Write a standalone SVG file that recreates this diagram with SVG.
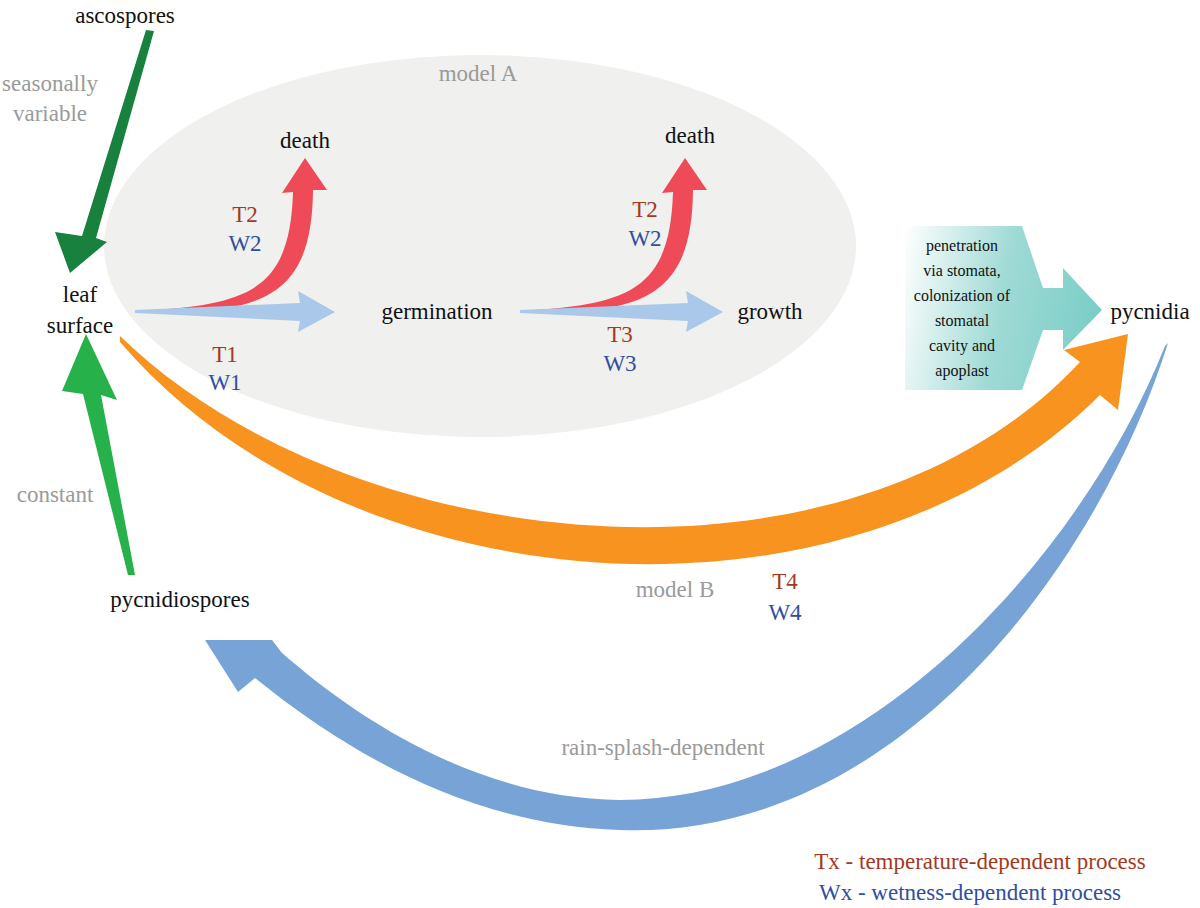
<svg xmlns="http://www.w3.org/2000/svg" width="1200" height="908" viewBox="0 0 1200 908" font-family="'Liberation Serif','Times New Roman','DejaVu Serif',serif">
<defs>
<linearGradient id="tg" x1="0" y1="0" x2="1" y2="0.15">
<stop offset="0" stop-color="#ffffff"/><stop offset="0.55" stop-color="#9fdad5"/><stop offset="1" stop-color="#7ecec8"/>
</linearGradient>
<style>
text{font-family:'Liberation Serif','Times New Roman','DejaVu Serif',serif;font-size:23px;text-anchor:middle}
.k{fill:#111}.g{fill:#9a9a9a}.t{fill:#a3391f}.w{fill:#2f4ea0}
.s{font-size:16px;fill:#111}
.lb{fill:#a9c8ea}.rd{fill:#ee4a57}
</style>
</defs>
<rect width="1200" height="908" fill="#fff"/>
<g id="modelA"><ellipse cx="480" cy="246" rx="376" ry="191" fill="#f0f0ee"/><text x="478" y="81" class="g" font-size="21">model A</text></g>
<g id="connectors">
<path d="M146,30 L154,31 L96,238 L107,242 L70,273 L55,232 L82,236 Z" fill="#17813d"/>
<path d="M128,575 L135,575 L101,395 L117,400 L86,334 L62,391 L83,394 Z" fill="#27b14b"/>
<path d="M140,311 C250,305 290,290 293,192 L282,193 L305,158 L327,190 L313,190 C312,300 260,313 145,313 Z" class="rd"/>
<path d="M135,310 L300,303 L298,291 L335,312 L298,332 L300,321 L135,313 Z" class="lb"/>
<path d="M520,311 C630,305 670,290 673,192 L662,193 L685,158 L707,190 L693,190 C692,300 640,313 525,313 Z" class="rd"/>
<path d="M520,310 L688,303 L686,291 L723,312 L686,332 L688,321 L520,313 Z" class="lb"/>
<path d="M120,336 C350,560 850,610 1080,362 L1064,350 L1128,334 L1118,410 L1100,395 C850,645 350,610 120,342 Z" fill="#f7931e"/>
<path d="M1168,343 C1100,560 900,840 620,830 C450,825 320,730 255,678 L238,692 L205,640 L272,640 L282,653 C350,712 470,798 620,800 C860,800 1080,560 1165,346 Z" fill="#77a3d6"/>
</g>
<g id="ascospores"><text x="125" y="23" class="k">ascospores</text></g>
<g id="seasonal"><text x="50" y="91" class="g">seasonally</text><text x="50" y="121" class="g">variable</text></g>
<g id="leaf"><text x="80" y="302" class="k">leaf</text><text x="80" y="333" class="k">surface</text></g>
<g id="constant"><text x="55" y="502" class="g">constant</text></g>
<g id="pycnidiospores"><text x="180" y="607" class="k">pycnidiospores</text></g>
<g id="death1"><text x="305" y="148" class="k">death</text></g>
<g id="death2"><text x="690" y="143" class="k">death</text></g>
<g id="germination"><text x="437" y="319" class="k">germination</text></g>
<g id="growth"><text x="770" y="319" class="k">growth</text></g>
<g id="pycnidia"><text x="1150" y="319" class="k">pycnidia</text></g>
<g id="labels">
<text x="245" y="222" class="t">T2</text><text x="245" y="251" class="w">W2</text>
<text x="225" y="362" class="t">T1</text><text x="225" y="390" class="w">W1</text>
<text x="645" y="217" class="t">T2</text><text x="645" y="246" class="w">W2</text>
<text x="620" y="342" class="t">T3</text><text x="620" y="371" class="w">W3</text>
<text x="675" y="597" class="g">model B</text>
<text x="785" y="589" class="t">T4</text><text x="785" y="620" class="w">W4</text>
<text x="663" y="755" class="g">rain-splash-dependent</text>
</g>
<g id="process">
<path d="M905,226 L1022,226 L1043,288 L1063,288 L1063,268 L1102,310 L1063,350 L1063,330 L1043,330 L1022,390 L905,390 Z" fill="url(#tg)"/>
<text x="962" y="251" class="s">penetration</text>
<text x="962" y="276" class="s">via stomata,</text>
<text x="962" y="301" class="s">colonization of</text>
<text x="962" y="326" class="s">stomatal</text>
<text x="962" y="351" class="s">cavity and</text>
<text x="962" y="376" class="s">apoplast</text>
</g>
<g id="legend">
<text x="980" y="869" class="t">Tx - temperature-dependent process</text>
<text x="970" y="900" class="w">Wx - wetness-dependent process</text>
</g>
</svg>
